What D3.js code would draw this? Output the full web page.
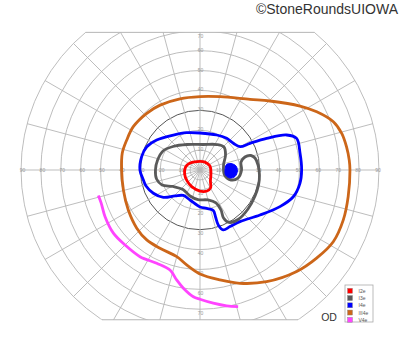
<!DOCTYPE html>
<html>
<head>
<meta charset="utf-8">
<script src="https://cdn.jsdelivr.net/npm/d3@7"></script>
<style>
  body { margin: 0; background: #fff; }
  svg { display: block; font-family: 'Liberation Sans', Arial, sans-serif; }
</style>
</head>
<body>
<svg width="400" height="352"></svg>
<script>
// isopter points: [meridian in degrees (0 = right, counter-clockwise), eccentricity in degrees]
let isoI2e = [
  [344.7, 5.7], [21.8, 5.4], [58, 4.7], [109.4, 4.5], [145, 6.1], [168.3, 7.4],
  [194.5, 8.0], [220.2, 8.5], [244.8, 9.4], [270, 10.6], [288.4, 11.1], [300.3, 10.5], [313.7, 7.6]
]
let isoI3e = [
  [355.2, 30.0], [4.9, 29.3], [12.3, 28.3], [15.9, 26.6], [16.1, 23.5], [11, 21.0],
  [0, 20.9], [348.1, 19.5], [342.1, 16.4], [348.5, 12.6], [12, 12.1], [30.5, 14.9],
  [43.8, 16.7], [56.3, 15.4], [83.3, 12.9], [117, 14.4], [139, 18.0], [152.8, 20.9],
  [166.8, 21.9], [180, 22.4], [191.7, 22.3], [201.5, 20.5], [211.4, 15.9], [228.9, 13.0],
  [249, 14.0], [266.1, 14.9], [285, 15.6], [295.9, 18.4], [297.7, 22.7], [296.1, 26.9],
  [298.9, 30.1], [307.5, 31.4], [320.9, 31.1], [334.7, 30.6], [345.6, 30.4]
]
let isoI4e = [
  [0, 51.1], [9.5, 51.0], [18.1, 51.1], [22, 47.0], [25.4, 37.1], [28.1, 28.5],
  [30.2, 23.3], [38.7, 21.5], [49.9, 20.8], [64.5, 19.5], [90, 18.6], [109.6, 19.9],
  [127.3, 22.1], [145.3, 26.5], [156.4, 29.2], [167.1, 30.1], [180, 30.2], [190, 28.9],
  [196.5, 28.3], [206.5, 26.2], [216.8, 23.0], [226.1, 18.1], [236.8, 15.3], [251.6, 15.9],
  [270, 18.6], [279.9, 19.6], [288.2, 21.4], [288.3, 24.9], [288.4, 29.1], [291.2, 32.3],
  [297.9, 32.2], [307.7, 32.8], [323.1, 37.7], [335.4, 44.2], [344, 48.8], [352.4, 50.7]
]
let isoIII4e = [
  [0, 75.4], [3.8, 75.2], [9, 74.6], [14.5, 73.6], [19.9, 71.3], [26.5, 65.6],
  [32.6, 59.7], [44.6, 49.4], [54.7, 43.5], [74.7, 38.2], [90, 36.9], [105.7, 37.2],
  [121.6, 38.3], [133.2, 39.1], [147, 40.0], [157.7, 39.8], [167.7, 40.0], [180, 39.4],
  [194.6, 39.8], [209.2, 41.3], [222.6, 43.2], [232.7, 44.2], [242.9, 44.2], [255, 45.1],
  [262, 48.2], [270, 52.3], [280.3, 56.2], [289.4, 60.4], [300.8, 65.4], [313.6, 70.5],
  [322.9, 73.5], [331.7, 76.1], [340.8, 76.3], [349.8, 75.7]
]
let isoV4e = [
  [194.1, 52.7], [198.4, 52.4], [206.2, 53.2], [216.1, 53.9], [225, 53.3], [235.3, 53.0],
  [245.1, 51.7], [253.3, 52.5], [258, 56.5], [262, 60.0], [267, 63.8], [270, 65.0],
  [275.7, 67.3], [281.1, 69.6], [285.6, 71.3]
]
let blindSpot = [
  [0, 12.6], [11.7, 13.6], [11.8, 15.9], [6.3, 18.2], [358.5, 18.8], [349.5, 17.9],
  [345.1, 15.6], [348.9, 13.1]
]

let legendLabels = ['I2e', 'I3e', 'I4e', 'III4e', 'V4e']
let legendColors = ['#ff0000', '#5a5a5a', '#0000ff', '#cc6619', '#ff44ff']

let rings = [5, 10, 20, 30, 40, 50, 60, 70, 80, 90]
let meridians = d3.range(0, 360, 15)
let sideTicks = [10, 20, 30, 40, 50, 60, 70, 80, 90]
let upTicks = [10, 20, 30, 40, 50, 60, 70]
let downTicks = [10, 20, 30, 40, 50, 60, 70]
let fieldTop = 69.2
let fieldBottom = 75.3

let cx = 200
let cy = 170
let r = d3.scaleLinear().domain([0, 90]).range([0, 179])
let toRad = a => (90 - a) * Math.PI / 180

let svg = d3.select('svg')
let defs = svg.append('defs')

defs.append('clipPath').attr('id', 'clipRect')
  .append('rect')
  .attr('x', -r(90) - 2)
  .attr('y', -r(fieldTop))
  .attr('width', 2 * r(90) + 4)
  .attr('height', r(fieldTop) + r(fieldBottom))
defs.append('clipPath').attr('id', 'clipCircle')
  .append('circle')
  .attr('r', r(90) + 1)

let chart = svg.append('g')
  .attr('transform', 'translate(' + [cx, cy] + ')')

let grid = chart.append('g')
  .attr('clip-path', 'url(#clipRect)')
  .append('g')
  .attr('clip-path', 'url(#clipCircle)')

grid.selectAll('.ring')
  .data(rings)
  .enter().append('circle')
  .attr('r', d => r(d))
  .attr('fill', 'none')
  .attr('stroke', d => d === 30 ? '#555' : '#b5b5b5')
  .attr('stroke-width', d => d === 30 ? 1 : 0.9)

grid.selectAll('.meridian')
  .data(meridians)
  .enter().append('line')
  .attr('x1', 0).attr('y1', 0)
  .attr('x2', d => Math.cos(d * Math.PI / 180) * r(90))
  .attr('y2', d => -Math.sin(d * Math.PI / 180) * r(90))
  .attr('stroke', '#b5b5b5')
  .attr('stroke-width', 0.9)

// top and bottom limits of the chart
let limits = [-r(fieldTop), r(fieldBottom)]
chart.selectAll('.limit')
  .data(limits)
  .enter().append('line')
  .attr('x1', d => -Math.sqrt(r(90) * r(90) - d * d))
  .attr('x2', d => Math.sqrt(r(90) * r(90) - d * d))
  .attr('y1', d => d).attr('y2', d => d)
  .attr('stroke', '#b5b5b5')
  .attr('stroke-width', 1)

// axis labels
let labels = chart.append('g')
  .attr('font-size', 5)
  .attr('fill', '#999')
  .attr('text-anchor', 'middle')
  .attr('dominant-baseline', 'central')

labels.selectAll('.left')
  .data(sideTicks)
  .enter().append('text')
  .attr('x', d => -r(d) + 1.5)
  .attr('y', 0)
  .text(d => d)
labels.selectAll('.right')
  .data(sideTicks)
  .enter().append('text')
  .attr('x', d => r(d) - 1)
  .attr('y', 0)
  .text(d => d)
labels.selectAll('.up')
  .data(upTicks)
  .enter().append('text')
  .attr('x', 0.5)
  .attr('y', d => Math.max(-r(d) - 1, -r(fieldTop) + 3.5))
  .text(d => d)
labels.selectAll('.down')
  .data(downTicks)
  .enter().append('text')
  .attr('x', 0.5)
  .attr('y', d => r(d) + 3.5)
  .text(d => d)

// isopters
let closed = d3.lineRadial()
  .angle(d => toRad(d[0]))
  .radius(d => r(d[1]))
  .curve(d3.curveCatmullRomClosed.alpha(0.5))
let open = d3.lineRadial()
  .angle(d => toRad(d[0]))
  .radius(d => r(d[1]))
  .curve(d3.curveCatmullRom.alpha(0.5))

let isopters = [isoIII4e, isoI4e, isoI3e, isoI2e]
let isoColors = [legendColors[3], legendColors[2], legendColors[1], legendColors[0]]

chart.selectAll('.iso')
  .data(isopters)
  .enter().append('path')
  .attr('d', d => closed(d))
  .attr('fill', 'none')
  .attr('stroke', (d, i) => isoColors[i])
  .attr('stroke-width', 2.8)
  .attr('stroke-linejoin', 'round')

chart.append('path')
  .attr('d', open(isoV4e))
  .attr('fill', 'none')
  .attr('stroke', legendColors[4])
  .attr('stroke-width', 2.8)

chart.append('path')
  .attr('d', closed(blindSpot))
  .attr('fill', legendColors[2])
  .attr('stroke', legendColors[2])
  .attr('stroke-width', 1)

// watermark and eye label
svg.append('text')
  .attr('x', 398)
  .attr('y', 13.5)
  .attr('text-anchor', 'end')
  .attr('font-size', 14)
  .attr('fill', '#333')
  .text('\u00A9StoneRoundsUIOWA')

svg.append('text')
  .attr('x', 329)
  .attr('y', 321)
  .attr('text-anchor', 'middle')
  .attr('font-size', 10.5)
  .attr('fill', '#333')
  .text('OD')

// legend
let legend = svg.append('g')
  .attr('transform', 'translate(' + [345, 285] + ')')
legend.append('rect')
  .attr('width', 28)
  .attr('height', 37)
  .attr('fill', '#fff')
  .attr('stroke', '#aaa')
  .attr('stroke-width', 0.8)
let items = legend.selectAll('.item')
  .data(legendLabels)
  .enter().append('g')
  .attr('transform', (d, i) => 'translate(' + [2.5, 3.3 + i * 7.25] + ')')
items.append('rect')
  .attr('width', 5)
  .attr('height', 5)
  .attr('fill', (d, i) => legendColors[i])
  .attr('stroke', '#888')
  .attr('stroke-width', 0.4)
items.append('text')
  .attr('x', 11)
  .attr('y', 2.6)
  .attr('dominant-baseline', 'central')
  .attr('font-size', 5)
  .attr('fill', '#555')
  .text(d => d)
</script>
</body>
</html>
